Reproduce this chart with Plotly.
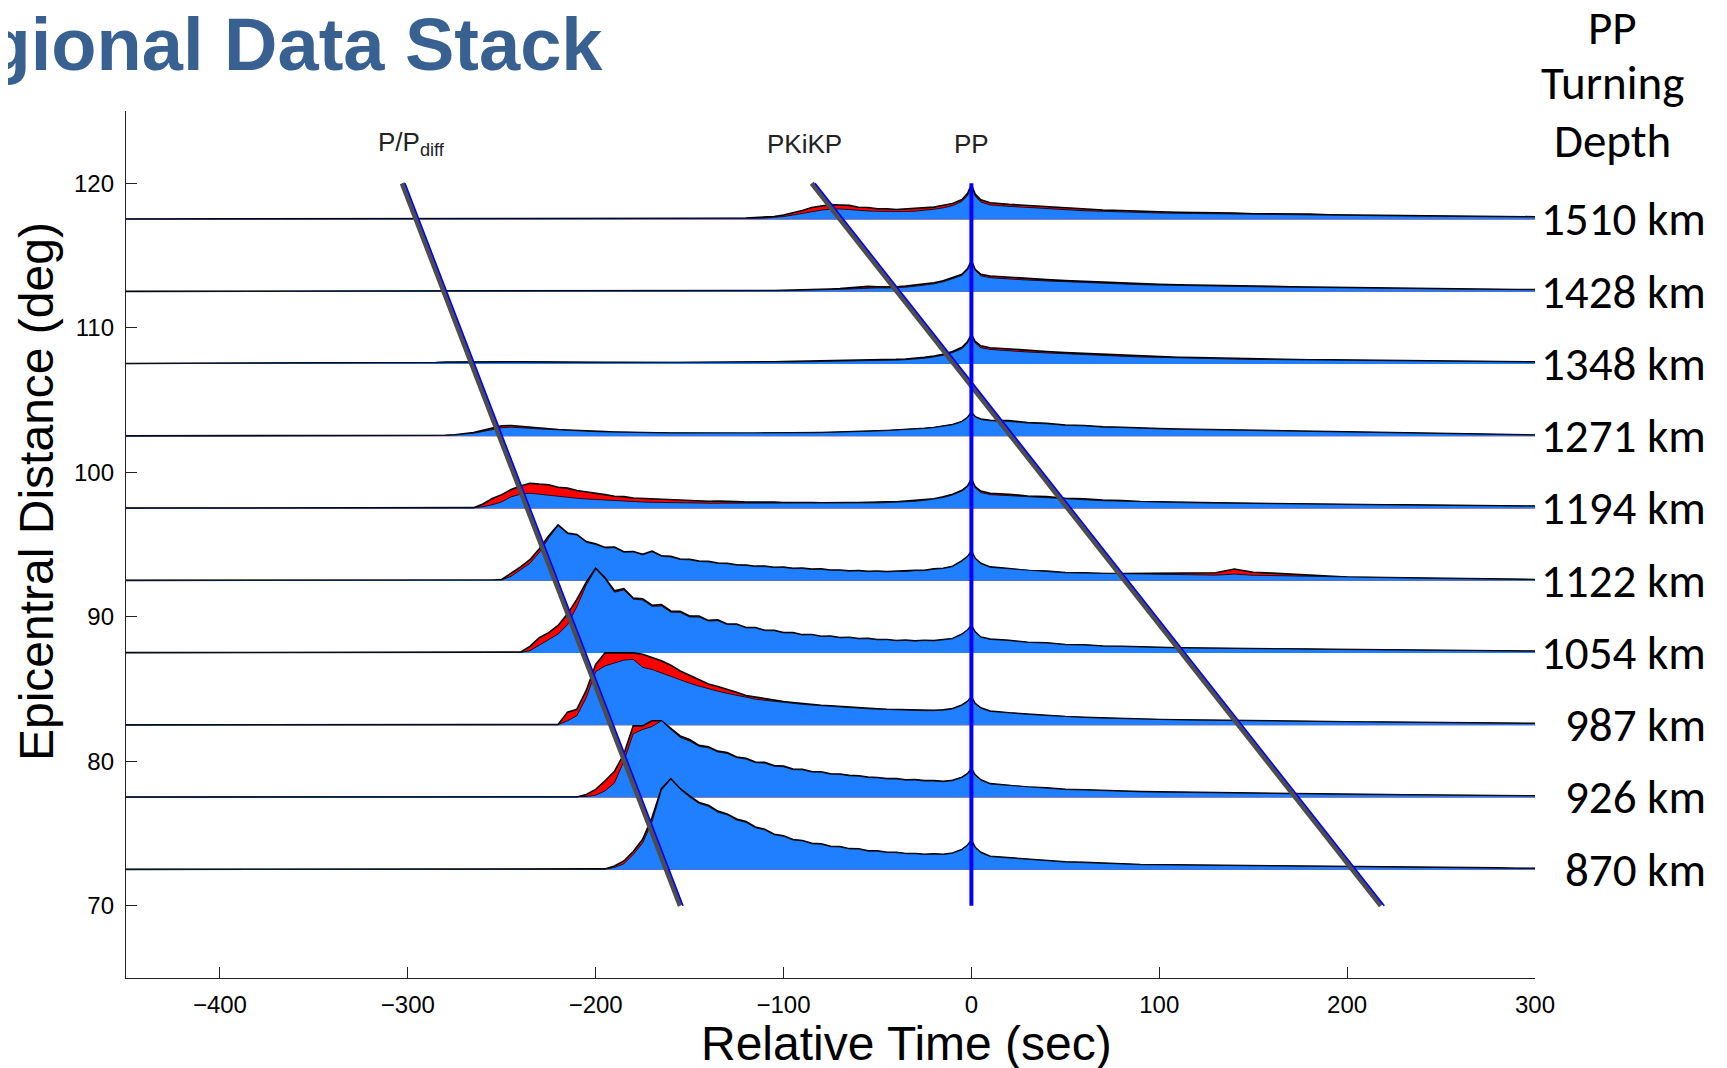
import math
import plotly.graph_objects as go

# ---------------- data ----------------
TIME = [-450,
        -300, -295, -290, -285, -280, -275, -270, -265, -260, -255,
        -250, -245, -240, -235, -230, -225, -220, -215, -210, -205,
        -200, -195, -190, -185, -180, -175, -170, -165, -160, -155,
        -150, -145, -140, -135, -130, -125, -120, -115, -110, -105,
        -100, -95, -90, -85, -80, -75, -70, -65, -60, -55,
        -50, -45, -40, -35, -30, -25, -20, -15, -10,
        -5, -2, 0, 2, 5,
        10, 20, 30, 40, 50, 60, 70, 80, 90, 100,
        110, 120, 130, 140, 150, 160, 170, 180, 190, 200,
        210, 220, 230, 240, 250, 260, 270, 280, 290, 300]

DEPTH_LABELS = ["1510 km", "1428 km", "1348 km", "1271 km", "1194 km",
                "1122 km", "1054 km", "987 km", "926 km", "870 km"]
BASE_DIST = [117.5, 112.5, 107.5, 102.5, 97.5, 92.5, 87.5, 82.5, 77.5, 72.5]

# red (upper) stack amplitude, degrees above trace baseline
ENV_1510 = [0.03,
    .03, .04, .03, .03, .04, .03, .03, .04, .03, .03,
    .04, .03, .04, .04, .03, .04, .05, .04, .04, .05,
    .04, .05, .05, .04, .05, .05, .06, .05, .05, .06,
    .06, .07, .06, .07, .08, .08, .09, .11, .14, .2,
    .3, .45, .62, .82, .9, 1.02, 1.0, .97, .84, .82,
    .74, .74, .68, .72, .72, .8, .85, .98, 1.1,
    1.38, 1.8, 2.4, 1.75, 1.35,
    1.15, 1.04, .96, .88, .77, .71, .65, .61, .55, .53,
    .49, .48, .44, .44, .39, .39, .35, .36, .32, .31,
    .29, .28, .27, .26, .24, .23, .22, .21, .2, .18]
BLUE_1510 = [0.02,
    .02, .02, .02, .02, .02, .02, .02, .02, .02, .02,
    .02, .02, .02, .02, .02, .02, .02, .02, .02, .02,
    .03, .03, .03, .03, .03, .03, .03, .03, .03, .03,
    .03, .04, .04, .04, .05, .05, .06, .07, .09, .13,
    .2, .3, .42, .55, .64, .7, .72, .68, .62, .58,
    .56, .54, .53, .54, .57, .62, .7, .8, .95,
    1.25, 1.65, 2.35, 1.62, 1.2,
    1.0, .9, .82, .74, .66, .6, .56, .51, .47, .44,
    .42, .4, .38, .36, .34, .32, .31, .3, .28, .27,
    .25, .24, .23, .22, .21, .2, .19, .18, .17, .16]

ENV_1428 = [0.02,
    .02, .03, .02, .02, .03, .02, .03, .02, .03, .02,
    .03, .03, .02, .03, .03, .03, .03, .04, .03, .03,
    .04, .03, .04, .04, .04, .05, .04, .04, .05, .05,
    .05, .05, .06, .05, .06, .06, .06, .07, .07, .08,
    .09, .1, .11, .13, .15, .18, .21, .25, .3, .36,
    .34, .32, .34, .39, .45, .52, .62, .75, .95,
    1.2, 1.6, 2.15, 1.55, 1.2,
    1.08, .98, .9, .83, .76, .7, .64, .58, .54, .5,
    .47, .44, .42, .4, .38, .36, .34, .32, .3, .28,
    .26, .25, .23, .22, .2, .19, .18, .16, .15, .14]
BLUE_1428 = [0.01,
    .02, .02, .02, .02, .02, .02, .02, .02, .02, .02,
    .02, .02, .02, .02, .02, .02, .02, .02, .02, .02,
    .03, .03, .03, .03, .03, .03, .03, .03, .03, .03,
    .04, .04, .04, .04, .05, .05, .05, .05, .06, .06,
    .07, .08, .09, .1, .11, .13, .15, .18, .21, .25,
    .26, .25, .27, .31, .37, .44, .54, .68, .88,
    1.12, 1.52, 2.1, 1.48, 1.1,
    .96, .86, .8, .74, .68, .62, .57, .52, .48, .45,
    .42, .4, .38, .36, .34, .32, .3, .28, .27, .25,
    .23, .22, .21, .2, .18, .17, .16, .15, .14, .13]

ENV_1348 = [0.03,
    .05, .06, .08, .1, .12, .13, .15, .16, .17, .17,
    .16, .15, .15, .14, .14, .13, .13, .12, .12, .12,
    .11, .11, .11, .1, .1, .1, .1, .11, .1, .1,
    .1, .11, .11, .12, .12, .12, .13, .13, .14, .15,
    .16, .17, .18, .19, .2, .21, .22, .23, .24, .25,
    .27, .29, .31, .34, .38, .45, .54, .66, .85,
    1.15, 1.55, 2.05, 1.55, 1.25,
    1.12, 1.02, .94, .86, .78, .72, .66, .6, .54, .5,
    .46, .43, .4, .37, .35, .33, .31, .29, .28, .26,
    .25, .24, .22, .21, .2, .19, .17, .16, .15, .14]
BLUE_1348 = [0.02,
    .03, .04, .06, .08, .09, .1, .12, .13, .14, .14,
    .13, .12, .12, .11, .11, .1, .1, .1, .09, .09,
    .09, .09, .08, .08, .08, .08, .08, .08, .08, .08,
    .08, .08, .09, .09, .09, .1, .1, .1, .11, .11,
    .12, .13, .14, .15, .16, .16, .17, .18, .19, .2,
    .22, .24, .26, .29, .33, .39, .48, .6, .78,
    1.05, 1.45, 2.0, 1.45, 1.12,
    1.0, .9, .82, .76, .69, .63, .58, .53, .48, .44,
    .41, .38, .36, .33, .31, .3, .28, .26, .25, .23,
    .22, .21, .2, .19, .18, .17, .15, .14, .13, .12]

ENV_1271 = [0.02,
    .02, .02, .03, .04, .06, .1, .16, .25, .4, .58,
    .72, .74, .68, .6, .55, .5, .46, .42, .38, .35,
    .33, .31, .29, .27, .26, .25, .24, .23, .22, .22,
    .21, .2, .2, .19, .19, .19, .2, .2, .2, .21,
    .22, .22, .23, .24, .25, .26, .27, .29, .31, .33,
    .36, .39, .42, .45, .49, .54, .6, .68, .8,
    1.02, 1.3, 1.65, 1.35, 1.18,
    1.1, 1.08, .94, .88, .76, .73, .64, .61, .55, .52,
    .49, .47, .45, .42, .39, .36, .33, .31, .29, .27,
    .25, .23, .21, .19, .17, .15, .13, .11, .1, .08]
BLUE_1271 = [0.02,
    .02, .02, .02, .03, .05, .08, .13, .2, .32, .46,
    .58, .62, .6, .54, .5, .46, .43, .39, .36, .33,
    .31, .29, .27, .26, .25, .24, .23, .22, .21, .21,
    .2, .19, .19, .18, .18, .18, .19, .19, .19, .2,
    .21, .21, .22, .23, .24, .25, .26, .28, .3, .32,
    .35, .38, .41, .44, .48, .53, .59, .67, .78,
    1.0, 1.28, 1.62, 1.32, 1.15,
    1.06, 1.02, .9, .85, .74, .71, .62, .59, .53, .5,
    .47, .45, .43, .4, .37, .35, .32, .3, .28, .26,
    .24, .22, .2, .18, .16, .14, .12, .1, .09, .07]

ENV_1194 = [0.02,
    .02, .02, .03, .02, .02, .03, .02, .05, .3, .68,
    .95, 1.3, 1.55, 1.74, 1.68, 1.64, 1.46, 1.4, 1.24, 1.16,
    1.03, .95, .84, .81, .72, .69, .62, .61, .56, .56,
    .52, .52, .49, .5, .46, .47, .44, .45, .42, .43,
    .4, .41, .39, .4, .38, .4, .39, .41, .4, .43,
    .42, .46, .46, .51, .53, .61, .67, .81, .98,
    1.25, 1.55, 2.05, 1.5, 1.2,
    1.05, .98, .86, .82, .69, .66, .57, .54, .47, .46,
    .42, .4, .38, .36, .34, .32, .31, .29, .28, .27,
    .26, .25, .24, .23, .22, .2, .19, .18, .17, .16]
BLUE_1194 = [0.02,
    .02, .02, .02, .02, .02, .02, .02, .04, .12, .25,
    .45, .8, .98, 1.05, .98, .9, .82, .76, .7, .65,
    .61, .56, .52, .49, .46, .44, .42, .4, .39, .38,
    .37, .37, .36, .36, .35, .35, .35, .35, .35, .35,
    .34, .34, .34, .34, .34, .34, .35, .35, .36, .37,
    .38, .4, .42, .45, .49, .55, .63, .75, .93,
    1.2, 1.5, 2.0, 1.42, 1.1,
    .95, .88, .8, .74, .64, .6, .53, .5, .45, .43,
    .4, .38, .36, .34, .32, .31, .29, .28, .27, .26,
    .25, .24, .23, .22, .21, .19, .18, .17, .16, .15]

ENV_1122 = [0.02,
    .02, .02, .02, .03, .02, .02, .03, .02, .02, .03,
    .08, .5, .95, 1.45, 2.2, 3.1, 3.85, 3.3, 3.2, 2.7,
    2.55, 2.3, 2.32, 2.0, 2.02, 1.82, 2.05, 1.72, 1.68, 1.5,
    1.48, 1.36, 1.33, 1.22, 1.2, 1.1, 1.08, 1.0, 1.0, .93,
    .94, .86, .87, .8, .81, .74, .74, .68, .7, .65,
    .67, .63, .67, .66, .72, .72, .82, .86, 1.0,
    1.38, 1.68, 2.05, 1.55, 1.2,
    .95, .84, .7, .66, .56, .55, .49, .49, .5, .53,
    .52, .56, .55, .8, .58, .52, .45, .35, .28, .25,
    .23, .21, .19, .17, .15, .13, .11, .1, .09, .08]
BLUE_1122 = [0.02,
    .02, .02, .02, .02, .02, .02, .02, .02, .02, .02,
    .05, .3, .72, 1.2, 1.95, 2.95, 3.8, 3.25, 3.15, 2.65,
    2.5, 2.26, 2.28, 1.96, 1.98, 1.78, 2.0, 1.68, 1.64, 1.46,
    1.44, 1.32, 1.3, 1.19, 1.17, 1.07, 1.05, .97, .97, .9,
    .91, .83, .84, .77, .78, .71, .71, .65, .67, .62,
    .64, .6, .64, .63, .69, .69, .79, .84, .97,
    1.35, 1.65, 2.02, 1.52, 1.17,
    .92, .82, .68, .63, .54, .52, .47, .44, .42, .41,
    .39, .39, .38, .45, .37, .35, .32, .29, .26, .24,
    .22, .2, .18, .16, .14, .12, .1, .09, .08, .07]

ENV_1054 = [0.02,
    .02, .02, .02, .02, .02, .02, .02, .02, .02, .02,
    .02, .02, .05, .45, 1.05, 1.4, 1.9, 2.7, 3.7, 4.9,
    5.85, 5.2, 4.3, 4.45, 3.8, 3.75, 3.3, 3.35, 2.9, 2.88,
    2.55, 2.55, 2.25, 2.28, 2.0, 2.0, 1.76, 1.76, 1.57, 1.56,
    1.4, 1.4, 1.26, 1.27, 1.15, 1.16, 1.06, 1.08, .99, 1.0,
    .92, .93, .86, .88, .83, .87, .85, .92, 1.0,
    1.3, 1.6, 1.9, 1.45, 1.1,
    .95, .87, .74, .7, .58, .56, .47, .45, .39, .38,
    .35, .33, .31, .3, .29, .28, .27, .26, .25, .24,
    .22, .21, .2, .18, .17, .16, .15, .14, .13, .12]
BLUE_1054 = [0.02,
    .02, .02, .02, .02, .02, .02, .02, .02, .02, .02,
    .02, .02, .03, .15, .55, .9, 1.3, 1.95, 3.2, 4.7,
    5.8, 5.12, 4.2, 4.35, 3.72, 3.66, 3.22, 3.25, 2.82, 2.8,
    2.48, 2.48, 2.2, 2.23, 1.96, 1.96, 1.73, 1.73, 1.54, 1.53,
    1.38, 1.38, 1.24, 1.25, 1.13, 1.14, 1.04, 1.06, .97, .98,
    .9, .91, .84, .86, .81, .85, .83, .9, .98,
    1.28, 1.58, 1.88, 1.43, 1.08,
    .93, .85, .72, .68, .56, .54, .46, .44, .38, .37,
    .34, .32, .3, .29, .28, .27, .26, .25, .24, .23,
    .21, .2, .19, .17, .16, .15, .14, .13, .12, .11]

ENV_987 = [0.02,
    .02, .02, .02, .02, .02, .02, .02, .02, .02, .02,
    .02, .02, .02, .02, .02, .02, .05, .9, 1.1, 2.4,
    4.2, 5.0, 5.0, 4.95, 5.0, 4.9, 4.7, 4.45, 4.15, 3.75,
    3.45, 3.15, 2.85, 2.68, 2.45, 2.27, 2.05, 1.94, 1.82, 1.73,
    1.63, 1.56, 1.48, 1.43, 1.37, 1.33, 1.28, 1.25, 1.2, 1.17,
    1.13, 1.1, 1.08, 1.06, 1.04, 1.03, 1.03, 1.06, 1.15,
    1.4, 1.65, 1.95, 1.5, 1.2,
    .98, .85, .76, .68, .6, .55, .5, .46, .42, .39,
    .37, .35, .33, .31, .3, .28, .27, .26, .25, .23,
    .22, .21, .2, .19, .17, .16, .15, .14, .13, .12]
BLUE_987 = [0.02,
    .02, .02, .02, .02, .02, .02, .02, .02, .02, .02,
    .02, .02, .02, .02, .02, .02, .03, .3, .65, 1.9,
    3.7, 4.1, 4.3, 4.5, 4.55, 4.0, 3.85, 3.6, 3.35, 3.15,
    2.9, 2.7, 2.5, 2.35, 2.2, 2.05, 1.9, 1.8, 1.72, 1.64,
    1.56, 1.5, 1.44, 1.39, 1.34, 1.29, 1.25, 1.21, 1.17, 1.13,
    1.1, 1.07, 1.05, 1.03, 1.01, 1.0, 1.0, 1.03, 1.12,
    1.37, 1.62, 1.92, 1.47, 1.17,
    .95, .83, .74, .66, .58, .53, .48, .44, .41, .38,
    .36, .34, .32, .3, .29, .27, .26, .25, .24, .22,
    .21, .2, .19, .18, .16, .15, .14, .13, .12, .11]

ENV_926 = [0.02,
    .02, .02, .02, .02, .02, .02, .02, .02, .02, .02,
    .02, .02, .02, .02, .02, .02, .02, .02, .02, .2,
    .55, 1.15, 1.8, 3.0, 4.95, 4.95, 5.3, 5.3, 4.75, 4.25,
    4.0, 3.6, 3.5, 3.2, 3.1, 2.8, 2.7, 2.45, 2.42, 2.2,
    2.16, 1.96, 1.94, 1.78, 1.77, 1.63, 1.62, 1.52, 1.5, 1.4,
    1.38, 1.3, 1.3, 1.22, 1.23, 1.16, 1.16, 1.11, 1.18,
    1.4, 1.65, 2.0, 1.55, 1.22,
    .95, .84, .71, .66, .56, .53, .47, .45, .4, .38,
    .36, .34, .32, .3, .28, .27, .26, .24, .23, .22,
    .2, .19, .18, .17, .16, .15, .14, .13, .12, .11]
BLUE_926 = [0.02,
    .02, .02, .02, .02, .02, .02, .02, .02, .02, .02,
    .02, .02, .02, .02, .02, .02, .02, .02, .02, .06,
    .15, .45, 1.0, 2.5, 4.4, 4.7, 4.9, 5.3, 4.7, 4.15,
    3.9, 3.53, 3.43, 3.14, 3.04, 2.75, 2.65, 2.4, 2.37, 2.15,
    2.12, 1.92, 1.91, 1.75, 1.74, 1.6, 1.59, 1.49, 1.47, 1.37,
    1.35, 1.27, 1.27, 1.19, 1.2, 1.13, 1.13, 1.08, 1.15,
    1.37, 1.62, 1.97, 1.52, 1.19,
    .92, .82, .69, .64, .54, .51, .45, .43, .38, .36,
    .34, .32, .3, .28, .27, .26, .25, .23, .22, .21,
    .19, .18, .17, .16, .15, .14, .13, .12, .11, .1]

ENV_870 = [0.02,
    .02, .02, .02, .02, .02, .02, .02, .02, .02, .02,
    .02, .02, .02, .02, .02, .02, .02, .02, .02, .02,
    .02, .05, .25, .6, 1.25, 2.1, 3.6, 5.6, 6.3, 5.6,
    5.1, 4.65, 4.45, 4.05, 3.85, 3.5, 3.33, 2.95, 2.8, 2.45,
    2.35, 2.08, 2.02, 1.82, 1.79, 1.62, 1.6, 1.45, 1.44, 1.3,
    1.3, 1.2, 1.2, 1.12, 1.12, 1.06, 1.09, 1.06, 1.15,
    1.4, 1.7, 2.05, 1.55, 1.2,
    .92, .82, .69, .64, .54, .5, .43, .41, .35, .34,
    .31, .29, .27, .26, .25, .24, .23, .22, .21, .2,
    .19, .18, .17, .16, .15, .16, .14, .12, .1, .09]
BLUE_870 = [0.02,
    .02, .02, .02, .02, .02, .02, .02, .02, .02, .02,
    .02, .02, .02, .02, .02, .02, .02, .02, .02, .02,
    .02, .03, .15, .4, 1.05, 1.85, 3.3, 5.5, 6.25, 5.55,
    5.03, 4.58, 4.38, 3.98, 3.79, 3.44, 3.27, 2.9, 2.75, 2.41,
    2.31, 2.05, 1.99, 1.79, 1.76, 1.59, 1.57, 1.43, 1.42, 1.28,
    1.28, 1.18, 1.18, 1.1, 1.1, 1.04, 1.07, 1.04, 1.13,
    1.38, 1.68, 2.02, 1.52, 1.17,
    .9, .8, .67, .62, .52, .48, .41, .39, .34, .33,
    .3, .28, .26, .25, .24, .23, .22, .21, .2, .19,
    .18, .17, .16, .15, .14, .15, .13, .11, .09, .08]

RED_STACKS = [ENV_1510, ENV_1428, ENV_1348, ENV_1271, ENV_1194,
              ENV_1122, ENV_1054, ENV_987, ENV_926, ENV_870]
BLUE_STACKS = [BLUE_1510, BLUE_1428, BLUE_1348, BLUE_1271, BLUE_1194,
               BLUE_1122, BLUE_1054, BLUE_987, BLUE_926, BLUE_870]

# travel-time curves (relative time in s, distance in deg)
PDIFF_T = [-303, -155]
PDIFF_D = [120, 70]
PKIKP_T = [-85, 218]
PKIKP_D = [120, 70]
PP_T = [0, 0]
PP_D = [120, 70]

PHASE_NAMES = ["P/P<sub>diff</sub>", "PKiKP", "PP"]
PHASE_LABEL_T = [-298, -89, 0]
PHASE_LABEL_D = [122.75, 122.75, 122.75]

X_TICKS = [-400, -300, -200, -100, 0, 100, 200, 300]
Y_TICKS = [70, 80, 90, 100, 110, 120]
X_RANGE = [-450, 300]
Y_RANGE = [65, 125]

for arr in RED_STACKS + BLUE_STACKS:
    assert len(arr) == len(TIME), len(arr)

# ---------------- styles / layout ----------------
W, H = 1727, 1068
ML, MR, MT, MB = 118, 200, 103, 98
PLOT_W = W - ML - MR
PLOT_H = H - MT - MB

RED = "#ff0000"
BLUE = "#1f7fff"
GREY = "#4d4d4d"
TITLE_BLUE = "#386192"
AXIS_FONT = "Liberation Sans, Arial, Helvetica, sans-serif"
LABEL_FONT = "Carlito, Calibri, Lato, sans-serif"
EDGE_OFFSET_PX = 2.6  # thin blue edge drawn alongside the grey phase lines


def px_x(px):
    return (px - ML) / PLOT_W


def px_y(py):
    return (MT + PLOT_H - py) / PLOT_H


fig = go.Figure()

for base, env, blue in zip(BASE_DIST, RED_STACKS, BLUE_STACKS):
    baseline = [base] * len(TIME)
    fig.add_trace(go.Scatter(x=TIME, y=baseline, mode="lines", line=dict(width=0),
                             hoverinfo="skip", showlegend=False))
    fig.add_trace(go.Scatter(x=TIME, y=[base + v for v in env], mode="lines",
                             fill="tonexty", fillcolor=RED,
                             line=dict(color="black", width=1.6),
                             hoverinfo="skip", showlegend=False))
    fig.add_trace(go.Scatter(x=TIME, y=baseline, mode="lines", line=dict(width=0),
                             hoverinfo="skip", showlegend=False))
    fig.add_trace(go.Scatter(x=TIME, y=[base + v for v in blue], mode="lines",
                             fill="tonexty", fillcolor=BLUE,
                             line=dict(color="black", width=0.8),
                             hoverinfo="skip", showlegend=False))

px_per_s = PLOT_W / (X_RANGE[1] - X_RANGE[0])
px_per_deg = PLOT_H / (Y_RANGE[1] - Y_RANGE[0])
for tt, dd in [(PDIFF_T, PDIFF_D), (PKIKP_T, PKIKP_D)]:
    dxp = (tt[1] - tt[0]) * px_per_s
    dyp = (dd[0] - dd[1]) * px_per_deg
    cos_t = dyp / math.hypot(dxp, dyp)
    shift = EDGE_OFFSET_PX / cos_t / px_per_s
    fig.add_trace(go.Scatter(x=tt, y=dd, mode="lines", line=dict(color=GREY, width=5),
                             hoverinfo="skip", showlegend=False))
    fig.add_trace(go.Scatter(x=[t + shift for t in tt], y=dd, mode="lines",
                             line=dict(color="#0000ff", width=1.6),
                             hoverinfo="skip", showlegend=False))
fig.add_trace(go.Scatter(x=PP_T, y=PP_D, mode="lines", line=dict(color="#0000ff", width=4),
                         hoverinfo="skip", showlegend=False))

annotations = []
for name, t, d in zip(PHASE_NAMES, PHASE_LABEL_T, PHASE_LABEL_D):
    annotations.append(dict(x=t, y=d, xref="x", yref="y", text=name, showarrow=False,
                            font=dict(family=AXIS_FONT, size=26, color="#222"),
                            xanchor="center", yanchor="middle"))

for label, base in zip(DEPTH_LABELS, BASE_DIST):
    annotations.append(dict(x=px_x(1700), y=base, xref="paper", yref="y", text=label,
                            showarrow=False, xanchor="right", yanchor="middle",
                            font=dict(family=LABEL_FONT, size=47, color="black")))

for word, py in zip(["PP", "Turning", "Depth"], [20, 75, 133]):
    annotations.append(dict(x=px_x(1604), y=px_y(py), xref="paper", yref="paper",
                            text=word, showarrow=False,
                            xanchor="center", yanchor="middle",
                            font=dict(family=LABEL_FONT, size=47, color="black")))

annotations.append(dict(x=px_x(597), y=px_y(36), xref="paper", yref="paper",
                        text="<b>Regional Data Stack</b>", showarrow=False,
                        xanchor="right", yanchor="middle",
                        font=dict(family=AXIS_FONT, size=74, color=TITLE_BLUE)))

annotations.append(dict(x=px_x(898), y=px_y(1035), xref="paper", yref="paper",
                        text="Relative Time (sec)", showarrow=False,
                        xanchor="center", yanchor="middle",
                        font=dict(family=AXIS_FONT, size=48, color="black")))
annotations.append(dict(x=px_x(29), y=px_y(484), xref="paper", yref="paper",
                        text="Epicentral Distance (deg)", showarrow=False, textangle=-90,
                        xanchor="center", yanchor="middle",
                        font=dict(family=AXIS_FONT, size=48, color="black")))

fig.update_layout(
    width=W, height=H,
    margin=dict(l=ML, r=MR, t=MT, b=MB),
    plot_bgcolor="white", paper_bgcolor="white",
    showlegend=False,
    font=dict(family=AXIS_FONT, color="black"),
    annotations=annotations,
)
fig.update_xaxes(range=X_RANGE, tickvals=X_TICKS, ticks="inside", ticklen=11,
                 tickwidth=1.2, tickcolor="#222", showline=True, linecolor="#222",
                 linewidth=1.3, showgrid=False, zeroline=False,
                 tickfont=dict(family=AXIS_FONT, size=24, color="black"),
                 ticklabelstandoff=5)
fig.update_yaxes(range=Y_RANGE, tickvals=Y_TICKS, ticks="inside", ticklen=11,
                 tickwidth=1.2, tickcolor="#222", showline=True, linecolor="#222",
                 linewidth=1.3, showgrid=False, zeroline=False,
                 tickfont=dict(family=AXIS_FONT, size=24, color="black"),
                 ticklabelstandoff=6)

fig.write_html("out.html", config={"displayModeBar": False})
